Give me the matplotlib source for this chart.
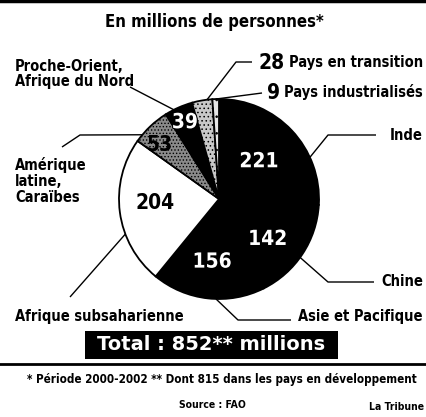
import numpy as np
import matplotlib.pyplot as plt
from matplotlib.patches import Rectangle
import matplotlib.patheffects as pe

# DONNEES
regions = ["Inde", "Chine", "Asie et Pacifique", "Afrique subsaharienne",
           "Amérique\nlatine,\nCaraïbes", "Proche-Orient,\nAfrique du Nord",
           "Pays en transition", "Pays industrialisés"]
values = [221, 142, 156, 204, 53, 39, 28, 9]
total = 852
colors = ['black', 'black', 'black', 'white', '#8a8a8a', 'black', '#c8c8c8', '#e6e6e6']
hatches = [None, None, None, None, '.....', None, '....', '..']

W, H = 426, 417
FONT = dict(family='DejaVu Sans', stretch='condensed', weight='bold')
plt.rcParams['hatch.linewidth'] = 0.6


def py(y):
    # coordonnees en pixels (depuis le haut) -> donnees
    return H - y


fig = plt.figure(figsize=(W / 100, H / 100), dpi=100)
ax = fig.add_axes([0, 0, 1, 1])

cx, cy, R = 219, py(199), 100
wedges, _ = ax.pie(values, colors=colors, startangle=90, counterclock=False,
                   center=(cx, cy), radius=R, frame=True,
                   wedgeprops=dict(edgecolor='black', linewidth=1.3))
for w, h in zip(wedges, hatches):
    if h:
        w.set_hatch(h)
ax.set_xlim(0, W)
ax.set_ylim(0, H)
ax.set_aspect('equal')
ax.axis('off')


def on_edge(w, t, r=1.0):
    a = np.deg2rad(w.theta1 + t * (w.theta2 - w.theta1))
    return cx + r * R * np.cos(a), cy + r * R * np.sin(a)


# valeurs dans le camembert
inner = [(0.5, 0.55, 'white'), (0.4, 0.63, 'white'), (0.5, 0.63, 'white'),
         (0.45, 0.64, 'black'), (0.7, 0.8, 'black'), (0.5, 0.84, 'white')]
for w, v, (t, r, c) in zip(wedges[:6], values[:6], inner):
    x, y = on_edge(w, t, r)
    txt = ax.text(x, y, str(v), ha='center', va='center', color=c,
                  fontsize=15, **FONT)
    if c == 'white':
        txt.set_path_effects([pe.withStroke(linewidth=1.5, foreground='black')])

# lignes de rappel : (position dans la part, points du trait en pixels)
leaders = [
    (0.30, [(328, 135), (376, 135)]),
    (0.46, [(328, 282), (374, 282)]),
    (0.57, [(238, 320), (291, 320)]),
    (0.65, [(70, 297)]),
    (0.80, [(80, 135), (62, 147)]),
    (0.68, [(130, 87)]),
    (0.26, [(236, 62), (252, 62)]),
    (0.50, [(262, 93)]),
]
for w, (t, pts) in zip(wedges, leaders):
    x0, y0 = on_edge(w, t)
    xs = [x0] + [p[0] for p in pts]
    ys = [y0] + [py(p[1]) for p in pts]
    ax.plot(xs, ys, color='black', lw=1.0, solid_capstyle='butt')

lab = dict(fontsize=10.5, va='center', linespacing=1.05, **FONT)
ax.text(423, py(135), regions[0], ha='right', **lab)
ax.text(423, py(281), regions[1], ha='right', **lab)
ax.text(423, py(317), regions[2], ha='right', **lab)
ax.text(15, py(317), regions[3], ha='left', **lab)
ax.text(15, py(181), regions[4], ha='left', **lab)
ax.text(15, py(74), regions[5], ha='left', **lab)
t6 = ax.text(423, py(62), regions[6], ha='right', **lab)
t7 = ax.text(423, py(92), regions[7], ha='right', **lab)
for t, v in ((t6, values[6]), (t7, values[7])):
    ax.annotate(str(v), xy=(0, 0.45), xycoords=t, xytext=(-3, 0),
                textcoords='offset points', ha='right', va='center',
                fontsize=15, **FONT)

# titre et cadre
ax.plot([0, W], [py(1), py(1)], color='black', lw=2.5)
ax.text(214, py(22), "En millions de personnes*", ha='center', va='center',
        fontsize=12, **FONT)

ax.add_patch(Rectangle((85, py(359)), 253, 28, color='black', lw=0))
ax.text(211, py(345), f"Total : {total}** millions", ha='center', va='center',
        color='white', fontsize=14, fontweight='bold', family='DejaVu Sans')
ax.plot([0, W], [py(364), py(364)], color='black', lw=2)

ax.text(222, py(379), "* Période 2000-2002 ** Dont 815 dans les pays en développement",
        ha='center', va='center', fontsize=8.4, **FONT)
ax.text(212, py(405), "Source : FAO", ha='center', va='center', fontsize=7.5, **FONT)
ax.text(424, py(407), "La Tribune", ha='right', va='center', fontsize=7.5, **FONT)

fig.savefig('out.png', dpi=100)
